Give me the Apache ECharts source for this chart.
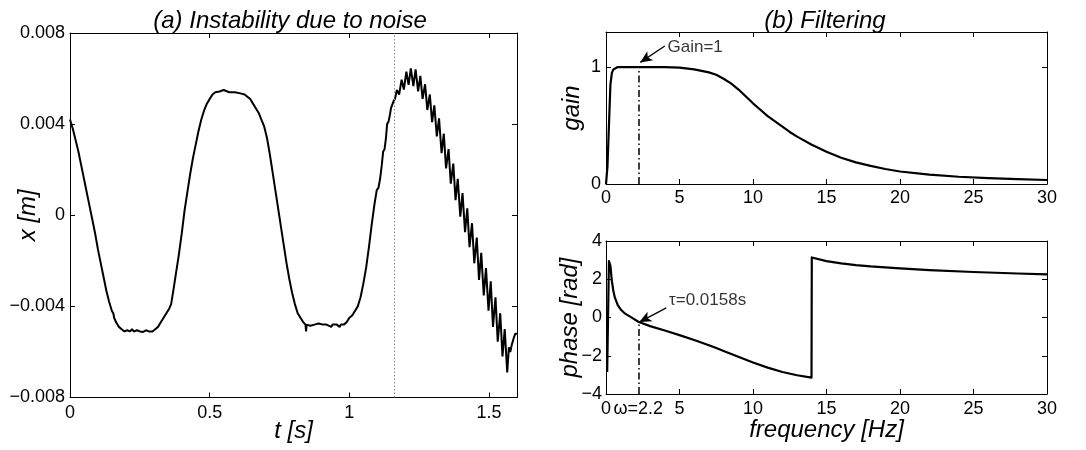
<!DOCTYPE html>
<html>
<head>
<meta charset="utf-8">
<script src="https://cdn.jsdelivr.net/npm/echarts@6/dist/echarts.min.js"></script>
<style>html,body{margin:0;padding:0;background:#fff;}#c{width:1086px;height:450px;}</style>
</head>
<body>
<div id="c"></div>
<script>
// ---- (a) measured position signal ----
const timeS = [
0.000,0.010,0.020,0.030,0.040,0.050,0.060,0.070,0.080,0.090,0.100,0.110,0.120,0.130,0.140,0.150,0.155,0.158,0.165,0.175,
0.185,0.195,0.205,0.215,0.222,0.228,0.240,0.250,0.262,0.272,0.282,0.295,0.305,0.315,0.325,0.335,0.345,0.355,0.362,0.370,
0.380,0.390,0.400,0.410,0.420,0.430,0.440,0.450,0.460,0.470,0.480,0.490,0.500,0.510,0.520,0.535,0.550,0.555,0.570,0.590,
0.610,0.625,0.635,0.645,0.655,0.665,0.675,0.685,0.695,0.705,0.715,0.725,0.735,0.745,0.755,0.765,0.775,0.785,0.795,0.805,
0.815,0.825,0.835,0.843,0.845,0.847,0.860,0.875,0.890,0.905,0.918,0.925,0.935,0.940,0.955,0.965,0.970,0.980,0.990,1.000,
1.010,1.020,1.030,1.040,1.050,1.060,1.070,1.080,1.090,1.098,1.104,1.110,1.116,1.121,1.126,1.131,1.135,1.140,1.145,1.149,
1.153,1.158,1.163,
1.170,1.178,1.187,1.195,1.204,1.212,1.220,1.229,1.237,1.246,1.254,1.262,1.271,1.279,1.288,1.296,1.304,1.313,1.321,1.330,
1.338,1.346,1.355,1.363,1.372,1.380,1.388,1.397,1.405,1.414,1.422,1.430,1.439,1.447,1.456,1.464,1.472,1.481,1.489,1.498,
1.506,1.514,1.523,1.531,1.540,1.548,1.556,1.565,1.571,1.576,1.581,1.588,1.594,1.600
];
const positionM = [
0.0042,0.0038,0.0033,0.0028,0.0022,0.0016,0.0010,0.0004,-0.0002,-0.0008,-0.0015,-0.0021,-0.0027,-0.0033,-0.0038,-0.0042,-0.0043,-0.0045,-0.0047,-0.0049,
-0.0050,-0.0051,-0.00505,-0.0051,-0.0050,-0.0051,-0.00505,-0.0051,-0.00512,-0.00505,-0.0051,-0.0051,-0.0050,-0.0049,-0.0047,-0.0045,-0.0043,-0.0041,-0.0039,-0.0033,
-0.0025,-0.0017,-0.0008,0.0002,0.0010,0.0018,0.0025,0.0031,0.0037,0.0042,0.0046,0.0049,0.0051,0.0053,0.0054,0.00543,0.0055,0.00543,0.0054,0.0054,
0.00535,0.0053,0.0052,0.0051,0.0049,0.0047,0.0045,0.0042,0.0039,0.0034,0.0027,0.0019,0.0011,0.0003,-0.0005,-0.0013,-0.0021,-0.0028,-0.0034,-0.0039,
-0.0043,-0.0045,-0.0047,-0.0048,-0.0051,-0.0048,-0.00485,-0.0048,-0.00475,-0.0048,-0.0048,-0.00475,-0.0049,-0.0048,-0.0048,-0.0049,-0.0048,-0.0048,-0.0047,-0.0045,
-0.0044,-0.0042,-0.0040,-0.0036,-0.0030,-0.0023,-0.0014,-0.0004,0.0005,0.0011,0.0012,0.0016,0.0022,0.0028,0.0029,0.0034,0.0040,0.0041,0.0044,0.0047,
0.0047,0.0050,0.0051,
0.0055,0.0053,0.00595,0.00552,0.0063,0.00572,0.00645,0.00567,0.0064,0.00544,0.00612,0.00511,0.00575,0.00462,0.0053,0.00409,0.00482,0.00346,0.00425,0.00273,
0.00358,0.00206,0.0029,0.00139,0.00227,0.00066,0.0016,-0.00006,0.00097,-0.00074,0.0003,-0.0014,-0.00035,-0.00211,-0.00098,-0.00284,-0.00165,-0.00352,-0.00232,-0.00419,
-0.0029,-0.0049,-0.0036,-0.00555,-0.0043,-0.0062,-0.0050,-0.0069,-0.0058,-0.0060,-0.0057,-0.0054,-0.0052,-0.0052
];
const instabilityStart = 1.157;

// ---- (b) filter response ----
const gainFreq = [0,0.1,0.2,0.3,0.4,0.5,0.6,0.8,1,2,3,4,5,6,7,7.5,8,8.5,9,9.5,10,10.5,11,11.5,12,12.5,13,14,15,16,17,18,19,20,22,24,26,28,30];
const gainVal  = [0,0.15,0.5,0.85,0.95,0.98,0.99,1.0,1.0,1.0,1.0,1.0,0.995,0.98,0.955,0.935,0.9,0.86,0.81,0.75,0.69,0.635,0.58,0.535,0.49,0.445,0.405,0.335,0.275,0.225,0.185,0.155,0.128,0.107,0.08,0.062,0.05,0.041,0.034];

const phaseFreq = [0.08,0.2,0.3,0.4,0.5,0.6,0.8,1.0,1.3,1.7,2.2,3,4,5,6,7,7.5,8,9,10,11,12,13,13.98,14.0,15,16,17,18,20,22,25,28,30];
const phaseVal  = [-2.85,2.95,2.7,1.9,1.4,1.05,0.65,0.42,0.2,0.02,-0.22,-0.45,-0.68,-0.92,-1.18,-1.45,-1.6,-1.75,-2.05,-2.35,-2.62,-2.85,-3.02,-3.14,3.14,2.95,2.83,2.74,2.67,2.57,2.48,2.38,2.3,2.25];

const markFreq = 2.2;
const gainNote = {text: 'Gain=1', tail: [4.0, 1.18], head: [2.33, 1.04], at: [4.05, 1.165]};
const phaseNote = {text: '\u03c4=0.0158s', tail: [4.1, 0.5], head: [2.27, -0.24], at: [4.15, 0.92]};
const freqTicks = [0,5,10,15,20,25,30];

const FONT = 'Liberation Sans, Arial, Helvetica, sans-serif';
const LABEL_SIZE = 18;
const minus = v => (v < 0 ? '\u2212' : '') + Math.abs(v);

function pairs(xs, ys){ return xs.map((x,i)=>[x, ys[i]]); }

function boxAxes(gridIndex, xCfg, yCfg){
  const tick = {show:true, inside:true, length:5, lineStyle:{color:'#000', width:1}};
  const line = {show:true, onZero:false, lineStyle:{color:'#000', width:1}};
  const lbl = (m)=>({color:'#000', fontFamily:FONT, fontSize:LABEL_SIZE, margin:m});
  const nameStyle = {fontFamily:FONT, fontSize:24, fontStyle:'italic', color:'#000'};
  const xs = [
    Object.assign({type:'value', gridIndex, position:'bottom', axisLine:line, axisTick:tick, splitLine:{show:false},
      nameLocation:'middle', nameMoveOverlap:false, nameTextStyle:nameStyle}, xCfg.main,
      {axisLabel:Object.assign(lbl(xCfg.margin), xCfg.label||{})}),
    {type:'value', gridIndex, position:'top', min:xCfg.main.min, max:xCfg.main.max, interval:xCfg.main.interval,
      axisLine:line, axisTick:tick, axisLabel:{show:false}, splitLine:{show:false}}
  ];
  const ys = [
    Object.assign({type:'value', gridIndex, position:'left', axisLine:line, axisTick:tick, splitLine:{show:false},
      nameLocation:'middle', nameMoveOverlap:false, nameTextStyle:nameStyle}, yCfg.main,
      {axisLabel:Object.assign(lbl(yCfg.margin), yCfg.label||{})}),
    {type:'value', gridIndex, position:'right', min:yCfg.main.min, max:yCfg.main.max, interval:yCfg.main.interval,
      axisLine:line, axisTick:tick, axisLabel:{show:false}, splitLine:{show:false}}
  ];
  return {xs, ys};
}

const a = boxAxes(0,
  {main:{min:0, max:1.6, interval:0.5, name:'t [s]', nameGap:22}, margin:7,
   label:{formatter: v => String(v), showMaxLabel:false}},
  {main:{min:-0.008, max:0.008, interval:0.004, name:'x [m]', nameGap:30}, margin:5,
   label:{formatter: v => Math.abs(v) < 1e-9 ? '0' : (v < 0 ? '\u2212' : '') + Math.abs(v).toFixed(3)}});
const b1 = boxAxes(1,
  {main:{min:0, max:30, interval:5}, margin:5, label:{formatter: v => String(v)}},
  {main:{min:0, max:1.3, interval:1, name:'gain', nameGap:22}, margin:5,
   label:{formatter: v => String(v), showMaxLabel:false}});
const b2 = boxAxes(2,
  {main:{min:0, max:30, interval:5, name:'frequency [Hz]', nameGap:24}, margin:6,
   label:{customValues:[0, markFreq, 5, 10, 15, 20, 25, 30],
          formatter: v => Math.abs(v - markFreq) < 1e-6 ? '\u03c9=' + markFreq : String(v)}},
  {main:{min:-4, max:4, interval:2, name:'phase [rad]', nameGap:24}, margin:4,
   label:{formatter: v => minus(v)}});
b2.xs[0].axisTick = Object.assign({}, b2.xs[0].axisTick, {customValues: freqTicks});

const dashDot = {color:'#000', width:1.5, type:[7,3,1.5,3]};
const arrowStyle = {color:'#000', width:1.3, type:'solid'};
const titleStyle = {fontFamily:FONT, fontSize:24, fontStyle:'italic', fontWeight:'normal', color:'#000'};

const option = {
  animation:false,
  backgroundColor:'#fff',
  title:[
    {text:'(a) Instability due to noise', left:290, top:9, padding:0, textAlign:'center', textStyle:titleStyle},
    {text:'(b) Filtering', left:825, top:9, padding:0, textAlign:'center', textStyle:titleStyle}
  ],
  grid:[
    {left:70, top:33, width:447, height:364.5, outerBoundsMode:'none', containLabel:false},
    {left:606, top:32, width:441, height:152, outerBoundsMode:'none', containLabel:false},
    {left:606, top:241, width:441, height:153, outerBoundsMode:'none', containLabel:false}
  ],
  xAxis:[...a.xs, ...b1.xs, ...b2.xs],
  yAxis:[...a.ys, ...b1.ys, ...b2.ys],
  series:[
    {type:'line', xAxisIndex:0, yAxisIndex:0, data:pairs(timeS, positionM), showSymbol:false, symbol:'none',
     lineStyle:{color:'#000', width:2}, silent:true,
     markLine:{silent:true, symbol:'none', label:{show:false},
       lineStyle:{color:'#888', width:1, type:[1.5,2]},
       data:[{xAxis:instabilityStart}]}},
    {type:'line', xAxisIndex:2, yAxisIndex:2, data:pairs(gainFreq, gainVal), showSymbol:false, symbol:'none',
     lineStyle:{color:'#000', width:2.2, join:'round'}, silent:true,
     markLine:{silent:true, symbol:'none', label:{show:false},
       data:[
         [{coord:[markFreq,0], lineStyle:dashDot}, {coord:[markFreq,1]}],
         [{coord:gainNote.tail, symbol:'none', lineStyle:arrowStyle}, {coord:gainNote.head, symbol:'arrow', symbolSize:[8,12]}]
       ]}},
    {type:'scatter', xAxisIndex:2, yAxisIndex:2, symbolSize:0, silent:true,
     data:[gainNote.at],
     label:{show:true, position:'right', distance:2, formatter:gainNote.text, color:'#000', fontFamily:FONT, fontSize:17}},
    {type:'line', xAxisIndex:4, yAxisIndex:4, data:pairs(phaseFreq, phaseVal), showSymbol:false, symbol:'none',
     lineStyle:{color:'#000', width:2.2, join:'round'}, silent:true,
     markLine:{silent:true, symbol:'none', label:{show:false},
       data:[
         [{coord:[markFreq,-4], lineStyle:dashDot}, {coord:[markFreq,phaseVal[phaseFreq.indexOf(markFreq)]]}],
         [{coord:phaseNote.tail, symbol:'none', lineStyle:arrowStyle}, {coord:phaseNote.head, symbol:'arrow', symbolSize:[8,12]}]
       ]}},
    {type:'scatter', xAxisIndex:4, yAxisIndex:4, symbolSize:0, silent:true,
     data:[phaseNote.at],
     label:{show:true, position:'right', distance:2, formatter:phaseNote.text, color:'#000', fontFamily:FONT, fontSize:17}}
  ]
};
const chart = echarts.init(document.getElementById('c'), null, {renderer:'canvas'});
chart.setOption(option);
</script>
</body>
</html>
